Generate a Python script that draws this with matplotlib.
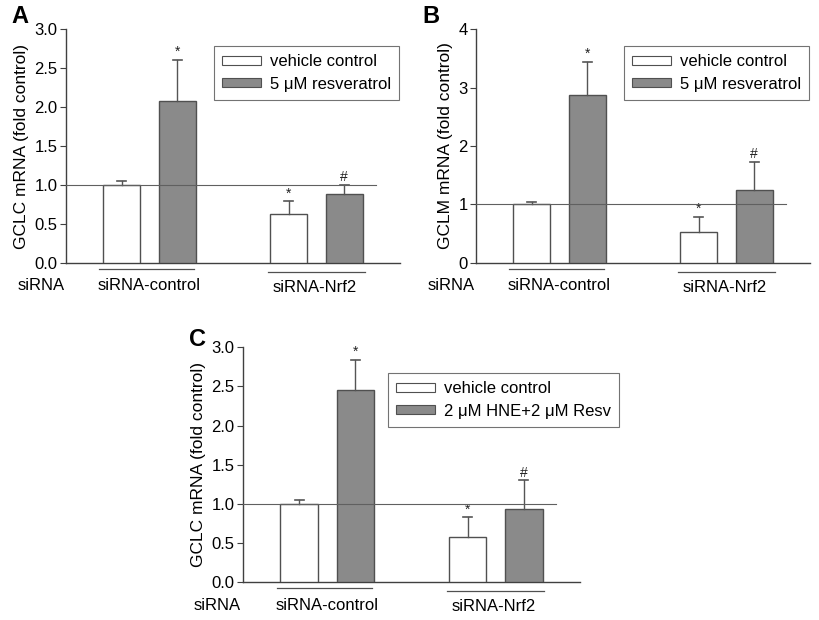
import matplotlib
matplotlib.use("Agg")
import matplotlib.pyplot as plt
from matplotlib.patches import Patch

plt.rcParams['font.family'] = ['Liberation Sans', 'DejaVu Sans']

groups = ["siRNA-control", "siRNA-Nrf2"]
row_label = "siRNA"

# Panel A
a_vehicle = [1.00, 0.63]
a_vehicle_err = [0.05, 0.16]
a_resv = [2.08, 0.89]
a_resv_err = [0.53, 0.11]
a_marks_vehicle = ["", "*"]
a_marks_resv = ["*", "#"]

# Panel B
b_vehicle = [1.00, 0.535]
b_vehicle_err = [0.05, 0.25]
b_resv = [2.87, 1.25]
b_resv_err = [0.57, 0.47]
b_marks_vehicle = ["", "*"]
b_marks_resv = ["*", "#"]

# Panel C
c_vehicle = [1.00, 0.575]
c_vehicle_err = [0.05, 0.255]
c_resv = [2.46, 0.93]
c_resv_err = [0.38, 0.37]
c_marks_vehicle = ["", "*"]
c_marks_resv = ["*", "#"]

legend_vehicle = "vehicle control"
legend_ab = "5 \u03bcM resveratrol"
legend_c = "2 \u03bcM HNE+2 \u03bcM Resv"

FILL_GRAY = "#8a8a8a"
EDGE = "#505050"
AX = "#404040"

fig = plt.figure(figsize=(8.2, 6.2), dpi=100)


def panel(rect, letter, letter_dy, vehicle, verr, resv, rerr, mv, mr, ylim, yticks,
          yticklabels, ylabel, leg2, legrect):
    ax = fig.add_axes(rect)
    xw = [1.5, 6.0]
    xr = [3.0, 7.5]
    ax.bar(xw, vehicle, width=1.0, color="white", edgecolor=EDGE, linewidth=1.0, zorder=3)
    ax.bar(xr, resv, width=1.0, color=FILL_GRAY, edgecolor=EDGE, linewidth=1.0, zorder=3)
    for xs, vals, errs, marks in ((xw, vehicle, verr, mv), (xr, resv, rerr, mr)):
        for x, v, e, m in zip(xs, vals, errs, marks):
            ax.plot([x, x], [v, v + e], color="#555555", lw=1.0, zorder=4)
            ax.plot([x - 0.12, x + 0.12], [v + e, v + e], color="#555555", lw=1.2, zorder=4)
            if m:
                ax.text(x, v + e + ylim[1] * 0.004, m, ha="center", va="bottom",
                        fontsize=10, color="#222222", zorder=5)
    ax.plot([0, 8.36], [1.0, 1.0], color="#606060", lw=0.8, zorder=5)
    ax.set_xlim(0, 9)
    ax.set_ylim(*ylim)
    ax.set_yticks(yticks)
    ax.set_yticklabels(yticklabels, fontsize=12)
    ax.set_xticks([])
    for s in ("top", "right"):
        ax.spines[s].set_visible(False)
    for s in ("left", "bottom"):
        ax.spines[s].set_color(AX)
        ax.spines[s].set_linewidth(1.0)
    ax.tick_params(axis="y", direction="out", length=4, color=AX, pad=2)
    ax.set_ylabel(ylabel, fontsize=12.5, labelpad=4)
    # group underlines and labels
    trans = ax.get_xaxis_transform()
    ax.plot([0.9, 3.45], [-0.025, -0.025], transform=trans, color="#505050", lw=0.9,
            clip_on=False)
    ax.plot([5.45, 8.05], [-0.038, -0.038], transform=trans, color="#505050", lw=0.9,
            clip_on=False)
    ax.text(2.24, -0.098, groups[0], transform=trans, ha="center", va="center", fontsize=12)
    ax.text(6.7, -0.105, groups[1], transform=trans, ha="center", va="center", fontsize=12)
    ax.text(-0.68, -0.098, row_label, transform=trans, ha="center", va="center", fontsize=12)
    # panel letter
    fig.text(rect[0] - 0.066, rect[1] + rect[3] + letter_dy, letter, fontsize=17,
             fontweight="bold", ha="left", va="center")
    # legend
    lax_handles = [Patch(facecolor="white", edgecolor=EDGE, lw=0.8, label=legend_vehicle),
                   Patch(facecolor=FILL_GRAY, edgecolor=EDGE, lw=0.8, label=leg2)]
    leg = ax.legend(handles=lax_handles, loc="upper left",
                    bbox_to_anchor=legrect, bbox_transform=fig.transFigure,
                    fontsize=12, frameon=True, fancybox=False, handlelength=2.3,
                    handleheight=0.45, handletextpad=0.55, borderpad=0.5,
                    labelspacing=0.45, borderaxespad=0.0)
    leg.get_frame().set_edgecolor("#505050")
    leg.get_frame().set_linewidth(0.8)
    return ax


panel([0.0805, 0.576, 0.407, 0.377], "A", 0.021, a_vehicle, a_vehicle_err, a_resv,
      a_resv_err, a_marks_vehicle, a_marks_resv, (0, 3.0),
      [0, 0.5, 1.0, 1.5, 2.0, 2.5, 3.0],
      ["0.0", "0.5", "1.0", "1.5", "2.0", "2.5", "3.0"],
      "GCLC mRNA (fold control)", legend_ab, (214 / 820, 1 - 46 / 620))

panel([0.5805, 0.576, 0.407, 0.377], "B", 0.021, b_vehicle, b_vehicle_err, b_resv,
      b_resv_err, b_marks_vehicle, b_marks_resv, (0, 4.0), [0, 1, 2, 3, 4],
      ["0", "1", "2", "3", "4"],
      "GCLM mRNA (fold control)", legend_ab, (624 / 820, 1 - 46 / 620))

panel([0.2963, 0.0608, 0.411, 0.379], "C", 0.012, c_vehicle, c_vehicle_err, c_resv,
      c_resv_err, c_marks_vehicle, c_marks_resv, (0, 3.0),
      [0, 0.5, 1.0, 1.5, 2.0, 2.5, 3.0],
      ["0.0", "0.5", "1.0", "1.5", "2.0", "2.5", "3.0"],
      "GCLC mRNA (fold control)", legend_c, (388 / 820, 1 - 373 / 620))

fig.savefig("out.png", dpi=100, facecolor="white")
